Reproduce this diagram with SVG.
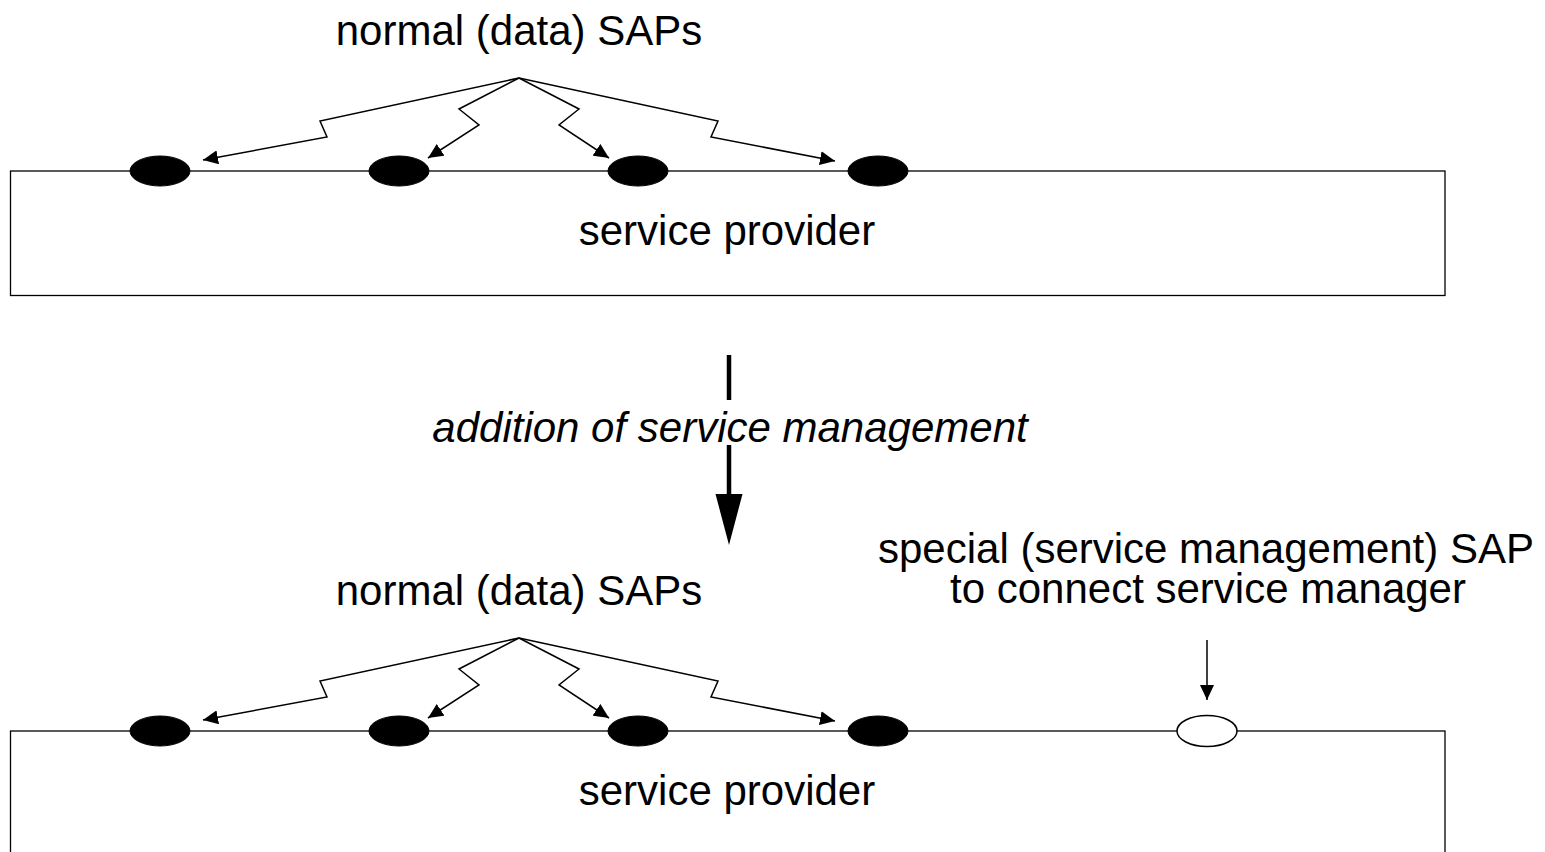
<svg xmlns="http://www.w3.org/2000/svg" width="1545" height="852" viewBox="0 0 1545 852">
<defs>
<style>
.lbl{font-family:"Liberation Sans",Arial,sans-serif;font-size:42px;fill:#000;text-anchor:middle}
.it{font-style:italic}
.box{fill:none;stroke:#000;stroke-width:1.3}
.sap{fill:#000;stroke:#000;stroke-width:1}
.sapo{fill:#fff;stroke:#000;stroke-width:1.5}
.ln{fill:none;stroke:#000;stroke-width:1.5;marker-end:url(#ah)}
</style>
<marker id="ah" markerUnits="userSpaceOnUse" markerWidth="15" markerHeight="14" refX="15" refY="7" orient="auto">
<path d="M0,0 L15,7 L0,14 z" fill="#000"/>
</marker>
</defs>
<rect width="1545" height="852" fill="#fff"/>

<g id="provider-top">
<rect class="box" x="10.5" y="171" width="1434.5" height="124.5"/>
<text class="lbl" x="727" y="245">service provider</text>
</g>
<g id="saps-top">
<ellipse class="sap" cx="160" cy="171" rx="30" ry="15"/>
<ellipse class="sap" cx="399" cy="171" rx="30" ry="15"/>
<ellipse class="sap" cx="638" cy="171" rx="30" ry="15"/>
<ellipse class="sap" cx="878" cy="171" rx="30" ry="15"/>
</g>
<g id="label-top">
<text class="lbl" x="519" y="45">normal (data) SAPs</text>
</g>

<g id="transition">
<text class="lbl it" x="730" y="442">addition of service management</text>
</g>

<g id="provider-bottom">
<rect class="box" x="10.5" y="731" width="1434.5" height="124.5"/>
<text class="lbl" x="727" y="805">service provider</text>
</g>
<g id="saps-bottom">
<ellipse class="sap" cx="160" cy="731" rx="30" ry="15"/>
<ellipse class="sap" cx="399" cy="731" rx="30" ry="15"/>
<ellipse class="sap" cx="638" cy="731" rx="30" ry="15"/>
<ellipse class="sap" cx="878" cy="731" rx="30" ry="15"/>
</g>
<g id="special-sap">
<ellipse class="sapo" cx="1207" cy="731" rx="30" ry="15.5"/>
</g>
<g id="label-bottom">
<text class="lbl" x="519" y="605">normal (data) SAPs</text>
</g>
<g id="label-special">
<text class="lbl" x="1206" y="563">special (service management) SAP</text>
<text class="lbl" x="1208" y="603">to connect service manager</text>
</g>

<g id="connectors">
<polyline class="ln" points="519,78 320,121 327,137 203,160"/>
<polyline class="ln" points="519,78 459,109 479,125 428,158"/>
<polyline class="ln" points="519,78 579,109 559,125 609,158"/>
<polyline class="ln" points="519,78 718,121 711,137 835,161"/>

<polyline class="ln" points="519,638 320,681 327,697 203,720"/>
<polyline class="ln" points="519,638 459,669 479,685 428,718"/>
<polyline class="ln" points="519,638 579,669 559,685 609,718"/>
<polyline class="ln" points="519,638 718,681 711,697 835,721"/>

<line class="ln" x1="1207" y1="640" x2="1207" y2="700"/>

<line x1="729" y1="355" x2="729" y2="400" stroke="#000" stroke-width="4.5"/>
<line x1="729" y1="445" x2="729" y2="500" stroke="#000" stroke-width="4.5"/>
<polygon points="715.5,494 742.5,494 729,545" fill="#000"/>
</g>
</svg>
